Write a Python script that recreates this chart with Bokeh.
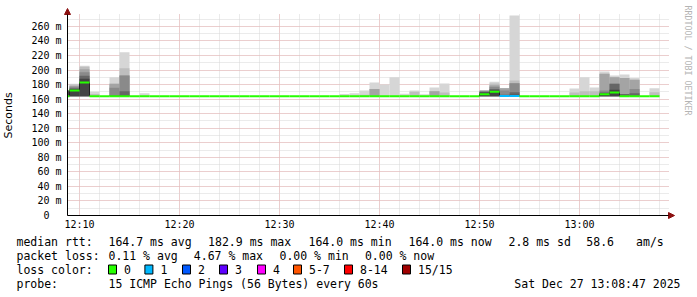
from bokeh.plotting import figure
from bokeh.models import ColumnDataSource, FixedTicker, Arrow, NormalHead, Range1d
from bokeh.core.properties import value
from bokeh.embed import file_html
from bokeh.resources import INLINE

# ---------------- data ----------------
# each 60 s step ends at this minute after 12:00 (12:09 ... 13:08)
bar_end_min = [9, 10, 11, 12, 13, 14, 15, 16, 17, 18,
               19, 20, 21, 22, 23, 24, 25, 26, 27, 28,
               29, 30, 31, 32, 33, 34, 35, 36, 37, 38,
               39, 40, 41, 42, 43, 44, 45, 46, 47, 48,
               49, 50, 51, 52, 53, 54, 55, 56, 57, 58,
               59, 60, 61, 62, 63, 64, 65, 66, 67, 68]

median_ms = [164.0, 172.0, 182.9, 164.0, 164.0, 164.0, 164.0, 164.0, 164.0, 164.0,
             164.0, 164.0, 164.0, 164.0, 164.0, 164.0, 164.0, 164.0, 164.0, 164.0,
             164.0, 164.0, 164.0, 164.0, 164.0, 164.0, 164.0, 164.0, 164.0, 164.0,
             164.0, 164.0, 164.0, 164.0, 164.0, 164.0, 164.0, 164.0, 164.0, 164.0,
             164.0, 164.0, 166.8, 170.3, 164.3, 164.3, 164.0, 164.0, 164.0, 164.0,
             164.0, 164.0, 164.0, 164.0, 166.6, 169.0, 164.0, 164.0, 164.0, 164.0]

loss_pings = [0, 0, 0, 0, 0, 0, 0, 0, 0, 0,
              0, 0, 0, 0, 0, 0, 0, 0, 0, 0,
              0, 0, 0, 0, 0, 0, 0, 0, 0, 0,
              0, 0, 0, 0, 0, 0, 0, 0, 0, 0,
              0, 0, 0, 0, 0.7, 0.3, 0, 0, 0, 0,
              0, 0, 0, 0, 0, 0, 0, 0, 0, 0]

smoke_floor_ms = 164.0
# smoke band tops (ms), lightest band first, for the steps that show smoke
smoke_tops = {
    9:  [172.0, 172.0, 172.0, 172.0, 172.0, 171.0],
    10: [181.0, 180.0, 178.0, 177.0, 175.0, 174.0],
    11: [206.0, 204.5, 201.0, 197.0, 192.0, 188.0],
    12: [170.0, 167.0, 164.0, 164.0, 164.0, 164.0],
    14: [190.0, 181.0, 181.0, 175.5, 165.5, 164.0],
    15: [224.5, 202.5, 192.5, 192.5, 171.0, 165.0],
    17: [168.0, 164.0, 164.0, 164.0, 164.0, 164.0],
    37: [167.0, 164.0, 164.0, 164.0, 164.0, 164.0],
    38: [168.0, 164.0, 164.0, 164.0, 164.0, 164.0],
    39: [172.0, 166.0, 164.0, 164.0, 164.0, 164.0],
    40: [183.0, 174.0, 174.0, 164.0, 164.0, 164.0],
    41: [180.0, 164.0, 164.0, 164.0, 164.0, 164.0],
    42: [190.0, 164.0, 164.0, 164.0, 164.0, 164.0],
    43: [167.5, 164.0, 164.0, 164.0, 164.0, 164.0],
    44: [172.0, 170.0, 164.0, 164.0, 164.0, 164.0],
    45: [166.8, 164.0, 164.0, 164.0, 164.0, 164.0],
    46: [176.0, 171.0, 171.0, 164.0, 164.0, 164.0],
    47: [181.5, 169.0, 164.0, 164.0, 164.0, 164.0],
    51: [172.0, 172.0, 172.0, 171.0, 170.0, 169.0],
    52: [184.0, 181.5, 179.0, 177.0, 174.0, 172.0],
    53: [175.0, 175.0, 175.0, 172.0, 166.0, 164.0],
    54: [275.0, 185.6, 182.0, 182.0, 169.5, 166.0],
    60: [174.5, 169.0, 164.0, 164.0, 164.0, 164.0],
    61: [190.0, 171.0, 164.0, 164.0, 164.0, 164.0],
    62: [176.0, 171.0, 164.0, 164.0, 164.0, 164.0],
    63: [198.0, 195.0, 195.0, 172.0, 169.0, 168.0],
    64: [192.5, 190.0, 190.0, 181.0, 181.0, 173.0],
    65: [194.0, 189.0, 189.0, 167.0, 167.0, 164.0],
    66: [189.0, 186.5, 186.5, 174.0, 168.0, 164.0],
    68: [175.0, 169.5, 164.0, 164.0, 164.0, 164.0],
}

x_major = [10, 20, 30, 40, 50, 60]
x_labels = ["12:10", "12:20", "12:30", "12:40", "12:50", "13:00"]
x_minor = list(range(10, 69, 2))
y_major = [0, 20, 40, 60, 80, 100, 120, 140, 160, 180, 200, 220, 240, 260]
y_labels = ["0\u00a0\u00a0", "20 m", "40 m", "60 m", "80 m", "100 m", "120 m", "140 m",
            "160 m", "180 m", "200 m", "220 m", "240 m", "260 m"]
y_minor = list(range(0, 271, 10))

rtt_title = "median rtt:"
rtt_stats = ["164.7 ms avg", "182.9 ms max", "164.0 ms min", "164.0 ms now",
             "2.8 ms sd", "58.6", "am/s"]
loss_title = "packet loss:"
loss_stats = ["0.11 % avg", "4.67 % max", "0.00 % min", "0.00 % now"]
legend_title = "loss color:"
loss_labels = ["0", "1", "2", "3", "4", "5-7", "8-14", "15/15"]
loss_upper = [0, 1, 2, 3, 4, 7, 14, 15]
probe_title = "probe:"
probe_text = "15 ICMP Echo Pings (56 Bytes) every 60s"
stamp_text = "Sat Dec 27 13:08:47 2025"
watermark = "RRDTOOL / TOBI OETIKER"

# ---------------- styles / layout ----------------
loss_colors = ["#26ff00", "#00b8ff", "#0059ff", "#5e00ff", "#ff00ff",
               "#ff5500", "#ff0000", "#a00000"]
smoke_colors = ["#d6d6d6", "#bebebe", "#a4a4a4", "#8a8a8a", "#666666", "#444444"]
MONO = "DejaVu Sans Mono"
W, H = 697, 297
FL, FB = 67, 215          # canvas px of the chart origin (left, bottom)
X0, X1 = 8.8, 68.8        # visible time span (minutes after 12:00)
Y0, Y1 = 0.0, 275.0       # visible value span (ms)
PX_PER_MIN = 10.0
PX_PER_MS = 200.0 / 275.0

def dx(cx):   # canvas px -> data x
    return X0 + (cx - FL) / PX_PER_MIN
def dy(cy):   # canvas px -> data y
    return (FB - cy) / PX_PER_MS

p = figure(width=W, height=H, title=None,
           x_range=Range1d(dx(0), dx(W)), y_range=Range1d(dy(H), dy(0)),
           output_backend="svg", toolbar_location=None,
           min_border_left=0, min_border_right=0, min_border_top=0, min_border_bottom=0)
p.outline_line_color = None
p.background_fill_color = "white"
p.border_fill_color = "white"

# axes, pinned at the chart origin
xa, ya = p.xaxis[0], p.yaxis[0]
xa.fixed_location = Y0
ya.fixed_location = X0
xa.bounds = (X0, X1)
ya.bounds = (Y0, Y1)
xa.ticker = FixedTicker(ticks=x_major, minor_ticks=x_minor)
xa.major_label_overrides = dict(zip(x_major, x_labels))
ya.ticker = FixedTicker(ticks=y_major, minor_ticks=y_minor)
ya.major_label_overrides = dict(zip(y_major, y_labels))
for ax in (xa, ya):
    ax.axis_line_color = "black"
    ax.axis_line_width = 1
    ax.major_tick_out = 0
    ax.major_tick_in = 0
    ax.minor_tick_out = 0
    ax.minor_tick_in = 0
    ax.major_label_text_font = MONO
    ax.major_label_text_font_size = "10px"
    ax.major_label_text_color = "black"
xa.major_label_standoff = 3
ya.major_label_standoff = 6
ya.axis_label = "Seconds"
ya.axis_label_text_font = "DejaVu Sans"
ya.axis_label_text_font_size = "11px"
ya.axis_label_text_font_style = "normal"
ya.axis_label_text_color = "black"
ya.axis_label_standoff = 13

# grids
MAJ_COL, MIN_COL = "#eab0b0", "#d6d6d6"
xg, yg = p.xgrid[0], p.ygrid[0]
try:
    xg.cross_bounds = (Y0, dy(13))
    yg.cross_bounds = (X0, dx(668))
    for g in (xg, yg):
        g.grid_line_color = MAJ_COL
        g.grid_line_dash = "1 1"
        g.grid_line_width = 1
        g.minor_grid_line_color = MIN_COL
        g.minor_grid_line_dash = "1 1"
        g.minor_grid_line_width = 1
except AttributeError:
    xg.visible = False
    yg.visible = False
    p.segment(x0=x_minor, x1=x_minor, y0=[Y0] * len(x_minor), y1=[dy(13)] * len(x_minor),
              line_color=MIN_COL, line_dash="1 1", line_width=1)
    p.segment(x0=[X0] * len(y_minor), x1=[dx(668)] * len(y_minor), y0=y_minor, y1=y_minor,
              line_color=MIN_COL, line_dash="1 1", line_width=1)
    p.segment(x0=x_major, x1=x_major, y0=[Y0] * len(x_major), y1=[dy(13)] * len(x_major),
              line_color=MAJ_COL, line_dash="1 1", line_width=1)
    p.segment(x0=[X0] * len(y_major), x1=[dx(668)] * len(y_major), y0=y_major, y1=y_major,
              line_color=MAJ_COL, line_dash="1 1", line_width=1)

# smoke
for k, col in enumerate(smoke_colors):
    lefts, rights, bottoms, tops = [], [], [], []
    for m in bar_end_min:
        if m in smoke_tops and smoke_tops[m][k] > smoke_floor_ms:
            lefts.append(max(m - 1, X0))
            rights.append(m)
            bottoms.append(smoke_floor_ms)
            tops.append(smoke_tops[m][k])
    src = ColumnDataSource(dict(left=lefts, right=rights, bottom=bottoms, top=tops))
    p.quad(left="left", right="right", bottom="bottom", top="top", source=src,
           fill_color=col, line_color=None)

# median: dark connectors at steps, coloured segments by loss
cx, cy0, cy1 = [], [], []
for i in range(1, len(bar_end_min)):
    if median_ms[i] != median_ms[i - 1]:
        cx.append(bar_end_min[i - 1])
        cy0.append(median_ms[i - 1])
        cy1.append(median_ms[i])
p.segment(x0=cx, y0=cy0, x1=cx, y1=cy1, line_color="#202020", line_width=1)

def loss_color(l):
    for up, c in zip(loss_upper, loss_colors):
        if l <= up:
            return c
    return loss_colors[-1]

p.segment(x0=[max(m - 1, X0) for m in bar_end_min], y0=median_ms,
          x1=bar_end_min, y1=median_ms,
          line_color=[loss_color(l) for l in loss_pings], line_width=2)

# axis arrows
arrow_col = "#8b1010"
p.add_layout(Arrow(end=NormalHead(size=6, fill_color=arrow_col, line_color=arrow_col),
                   x_start=X0, y_start=Y1 - 1, x_end=X0, y_end=dy(8),
                   line_color="black", line_width=1))
p.add_layout(Arrow(end=NormalHead(size=6, fill_color=arrow_col, line_color=arrow_col),
                   x_start=X1 - 0.1, y_start=Y0, x_end=dx(674), y_end=Y0,
                   line_color="black", line_width=1))

# watermark, reading downwards along the right edge
p.text(x=[dx(687)], y=[dy(5)], text=[watermark], angle=-1.5707963,
       text_align="left", text_baseline="middle", text_font=value(MONO),
       text_font_size=value("8.3px"), text_color="#b4b4b4")

# ---------------- legend rows below the chart ----------------
row_y = [241, 255.5, 269, 283]
txt_x, txt_y, txt_s = [], [], []
def put(t, xx, yy):
    txt_x.append(dx(xx)); txt_y.append(dy(yy)); txt_s.append(t)

put(rtt_title, 16, row_y[0])
for t, xx in zip(rtt_stats, [108, 207.6, 308, 408, 508, 585.8, 635.6]):
    put(t, xx, row_y[0])
put(loss_title, 16, row_y[1])
for t, xx in zip(loss_stats, [108, 193.3, 279, 364.4]):
    put(t, xx, row_y[1])
put(legend_title, 16, row_y[2])
box_x = [108, 144.4, 182, 219, 257, 293, 344, 402]
for lab, bx in zip(loss_labels, box_x):
    put(lab, bx + 15.5, row_y[2])
put(probe_title, 16, row_y[3])
put(probe_text, 108, row_y[3])

p.text(x=txt_x, y=txt_y, text=txt_s, text_font=value(MONO), text_font_size=value("11.5px"),
       text_baseline="middle", text_align="left", text_color="black")
p.text(x=[dx(680)], y=[dy(row_y[3])], text=[stamp_text], text_font=value(MONO),
       text_font_size=value("11.5px"), text_baseline="middle", text_align="right",
       text_color="black")
p.quad(left=[dx(b) for b in box_x], right=[dx(b + 8) for b in box_x],
       top=[dy(row_y[2] - 4.5)] * len(box_x), bottom=[dy(row_y[2] + 4.5)] * len(box_x),
       fill_color=loss_colors, line_color="black", line_width=1)

open("out.html", "w").write(file_html(p, INLINE))
